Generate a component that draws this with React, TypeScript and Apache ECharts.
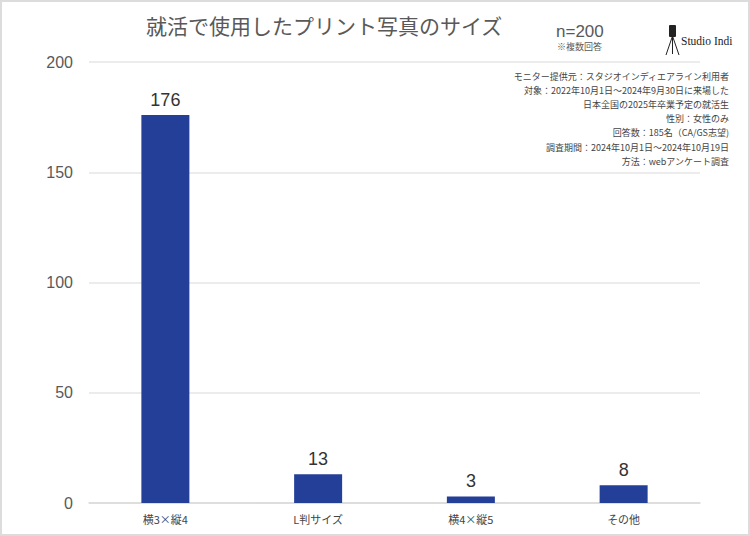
import React, { useEffect, useRef } from "react";
import * as echarts from "echarts";

const categories = ["横3×縦4", "L判サイズ", "横4×縦5", "その他"];
const values = [176, 13, 3, 8];
const yTicks = [0, 50, 100, 150, 200];
const titleText = "就活で使用したプリント写真のサイズ";
const noteLines = [
  "モニター提供元：スタジオインディエアライン利用者",
  "対象：2022年10月1日～2024年9月30日に来場した",
  "日本全国の2025年卒業予定の就活生",
  "性別：女性のみ",
  "回答数：185名（CA/GS志望)",
  "調査期間：2024年10月1日～2024年10月19日",
  "方法：webアンケート調査",
];

const FONT = "'Liberation Sans', 'Noto Sans CJK JP', sans-serif";
const JP = "'Noto Sans CJK JP', sans-serif";

export default function App() {
  const ref = useRef<HTMLDivElement>(null);
  useEffect(() => {
    if (!ref.current) return;
    const chart = echarts.init(ref.current, null, { renderer: "svg" });
    const graphics: any[] = [
      {
        type: "rect",
        shape: { x: 1, y: 1, width: 748, height: 534 },
        style: { fill: "none", stroke: "#dcdcdc", lineWidth: 2 },
        silent: true,
      },
      {
        type: "text",
        x: 146,
        y: 25,
        style: {
          text: titleText,
          fontSize: 21,
          fontFamily: JP,
          fill: "#595959",
          verticalAlign: "middle",
        },
      },
      {
        type: "text",
        x: 556,
        y: 31,
        style: {
          text: "n=200",
          fontSize: 17,
          fontFamily: FONT,
          fill: "#595959",
          verticalAlign: "middle",
        },
      },
      {
        type: "text",
        x: 557,
        y: 46,
        style: {
          text: "※複数回答",
          fontSize: 9,
          fontFamily: JP,
          fill: "#595959",
          verticalAlign: "middle",
        },
      },
      // camera logo
      {
        type: "rect",
        shape: { x: 669, y: 25, width: 7, height: 12, r: 1 },
        style: { fill: "#222" },
      },
      {
        type: "polyline",
        shape: { points: [[672.5, 36], [666, 55]] },
        style: { stroke: "#222", lineWidth: 1, fill: "none" },
      },
      {
        type: "polyline",
        shape: { points: [[672.5, 36], [672.5, 54]] },
        style: { stroke: "#222", lineWidth: 1, fill: "none" },
      },
      {
        type: "polyline",
        shape: { points: [[672.5, 36], [679, 55]] },
        style: { stroke: "#222", lineWidth: 1, fill: "none" },
      },
      {
        type: "text",
        x: 681,
        y: 41,
        style: {
          text: "Studio Indi",
          fontSize: 11.5,
          fontFamily: "'Liberation Serif', 'DejaVu Serif', serif",
          fill: "#222",
          verticalAlign: "middle",
        },
      },
    ];
    noteLines.forEach((t, i) => {
      graphics.push({
        type: "text",
        x: 729,
        y: 76 + i * 14.2,
        style: {
          text: t,
          fontSize: 9,
          fontFamily: JP,
          fill: "#444",
          align: "right",
          verticalAlign: "middle",
        },
      });
    });

    chart.setOption({
      animation: false,
      backgroundColor: "#ffffff",
      grid: { left: 89, right: 50, top: 62, bottom: 33, containLabel: false },
      xAxis: {
        type: "category",
        data: categories,
        axisLine: { lineStyle: { color: "#d9d9d9", width: 1.5 } },
        axisTick: { show: false },
        axisLabel: {
          fontSize: 11,
          fontFamily: JP,
          color: "#444",
          margin: 10,
        },
      },
      yAxis: {
        type: "value",
        min: 0,
        max: 200,
        interval: 50,
        axisLine: { show: false },
        axisTick: { show: false },
        splitLine: { lineStyle: { color: "#e6e6e6", width: 1.5 } },
        axisLabel: {
          fontSize: 16,
          fontFamily: FONT,
          color: "#595959",
          margin: 16,
          formatter: (v: number) => (yTicks.includes(v) ? String(v) : ""),
        },
      },
      series: [
        {
          type: "bar",
          data: values,
          barWidth: 48,
          itemStyle: { color: "#243F97" },
          label: {
            show: true,
            position: "top",
            distance: 6,
            fontSize: 18,
            fontFamily: FONT,
            color: "#333",
          },
        },
      ],
      graphic: graphics,
    });
    return () => chart.dispose();
  }, []);
  return (
    <div
      ref={ref}
      style={{ position: "fixed", left: 0, top: 0, width: 750, height: 536 }}
    />
  );
}
